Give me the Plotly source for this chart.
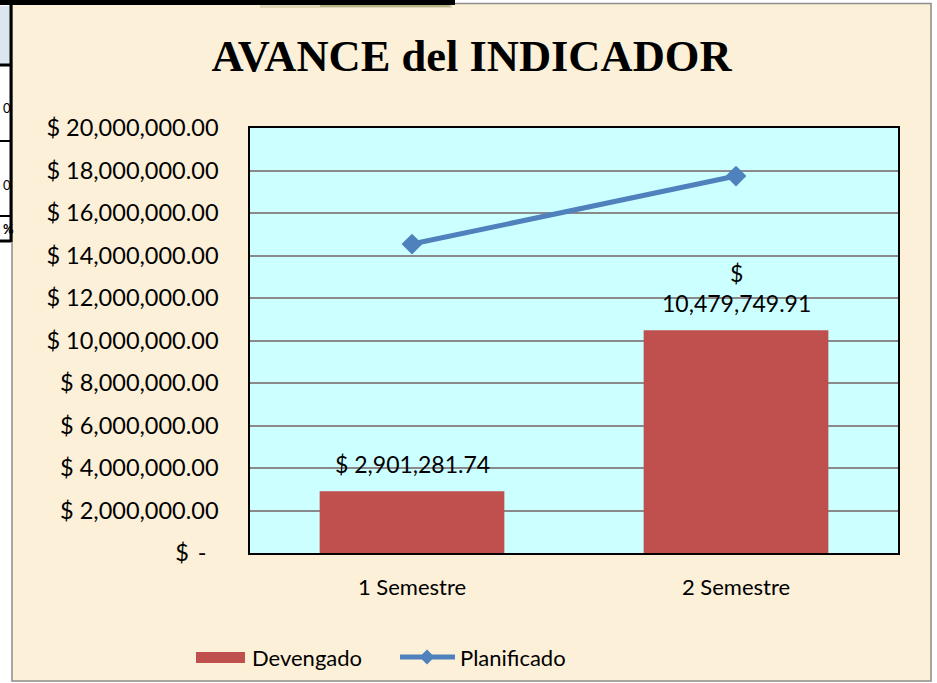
import plotly.graph_objects as go

# ---- data ----
categories = ["1 Semestre", "2 Semestre"]
devengado = [2901281.74, 10479749.91]
planificado = [14540000.0, 17740000.0]
y_tick_values = [0, 2e6, 4e6, 6e6, 8e6, 10e6, 12e6, 14e6, 16e6, 18e6, 20e6]

# ---- styling ----
PARCHMENT = "#FCF0D8"
PLOT_BG = "#CCFFFF"
BAR_RED = "#C0504D"
LINE_BLUE = "#4F81BD"
GRID = "#8A8A8A"
SANS = "Lato, 'Open Sans', sans-serif"
SERIF = "'Liberation Serif', 'DejaVu Serif', serif"

W, H = 937, 683
PL, PR, PT, PB = 250, 898, 128, 553  # plot area in pixels


def fx(px):
    return (px - PL) / (PR - PL)


def fy(py):
    return (PB - py) / (PB - PT)


def money(v):
    if v == 0:
        return "$\u00a0\u2009-\u00a0\u00a0"
    return f"$ {v:,.2f}"


def bar_label(v):
    s = money(v)
    # long accounting labels wrap after the currency sign
    if len(s) > 14:
        s = s.replace("$ ", "$<br>", 1)
    return s


y_tick_text = [money(v) for v in y_tick_values]

fig = go.Figure()

fig.add_trace(go.Bar(
    x=categories, y=devengado, name="Devengado",
    marker=dict(color=BAR_RED, line=dict(width=0)),
    width=0.57,
))
fig.add_trace(go.Scatter(
    x=categories, y=planificado, name="Planificado", mode="lines+markers",
    line=dict(color=LINE_BLUE, width=5),
    marker=dict(symbol="diamond", size=16, color=LINE_BLUE),
))

annotations = []
for c, v in zip(categories, devengado):
    annotations.append(dict(
        x=c, y=v, xref="x", yref="y", text=bar_label(v), showarrow=False,
        yanchor="bottom", yshift=11, font=dict(family=SANS, size=23, color="black"),
    ))

# values in the spreadsheet cells on the left edge
for txt, py, bold in [("0", 108, False), ("0", 185, False), ("%", 229, True)]:
    annotations.append(dict(
        x=fx(0.5), y=fy(py), xref="paper", yref="paper", xanchor="left",
        yanchor="middle", showarrow=False,
        text=f"<b>{txt}</b>" if bold else txt,
        font=dict(family=SANS, size=13, color="black"),
    ))

# legend labels
annotations.append(dict(x=fx(250), y=fy(657), xref="paper", yref="paper",
                        xanchor="left", yanchor="middle", showarrow=False,
                        text="Devengado", font=dict(family=SANS, size=22, color="black")))
annotations.append(dict(x=fx(458), y=fy(657), xref="paper", yref="paper",
                        xanchor="left", yanchor="middle", showarrow=False,
                        text="Planificado", font=dict(family=SANS, size=22, color="black")))

shapes = []


def rect(x0, y0, x1, y1, fill, line_color=None, line_width=0, layer="below"):
    shapes.append(dict(
        type="rect", xref="paper", yref="paper",
        x0=fx(x0), x1=fx(x1), y0=fy(y1), y1=fy(y0),
        fillcolor=fill, layer=layer,
        line=dict(color=line_color or "rgba(0,0,0,0)", width=line_width),
    ))


def hline(x0, x1, y, color, width):
    shapes.append(dict(type="line", xref="paper", yref="paper",
                       x0=fx(x0), x1=fx(x1), y0=fy(y), y1=fy(y),
                       line=dict(color=color, width=width), layer="above"))


def vline(x, y0, y1, color, width):
    shapes.append(dict(type="line", xref="paper", yref="paper",
                       x0=fx(x), x1=fx(x), y0=fy(y0), y1=fy(y1),
                       line=dict(color=color, width=width), layer="above"))


# white surroundings of the chart frame
rect(0, 0, 12, H, "white")
rect(0, 0, W, 3, "white")
rect(932, 0, W, H, "white")
rect(0, 682, W, H, "white")
# chart frame
rect(12, 3.5, 931, 681, "rgba(0,0,0,0)", "#8C8C8C", 1.5)
# dark bar along the top-left with its soft olive shadow
rect(260, 5, 452, 8, "rgba(130,135,70,0.25)", layer="above")
rect(320, 5, 450, 7, "rgba(110,120,50,0.35)", layer="above")
rect(0, 0, 455, 5, "black", layer="above")
# spreadsheet cells at the left edge
rect(0, 6, 10, 64, "#DCE6F1")
vline(11, 0, 242, "black", 3)
hline(0, 11, 65, "black", 3)
hline(0, 11, 141, "black", 2)
hline(0, 11, 216, "black", 2)
hline(0, 11, 241, "black", 3)

# legend symbols
rect(196, 652, 245, 663, BAR_RED, layer="above")
hline(400, 455, 657, LINE_BLUE, 5)
dx, dy = 7.5, 7.5
cx, cy = 427, 657
shapes.append(dict(
    type="path", xref="paper", yref="paper", layer="above",
    path=(f"M {fx(cx - dx)} {fy(cy)} L {fx(cx)} {fy(cy - dy)} "
          f"L {fx(cx + dx)} {fy(cy)} L {fx(cx)} {fy(cy + dy)} Z"),
    fillcolor=LINE_BLUE, line=dict(width=0),
))

fig.update_layout(
    width=W, height=H, autosize=False,
    margin=dict(l=PL, r=W - PR, t=PT, b=H - PB, pad=0),
    paper_bgcolor=PARCHMENT, plot_bgcolor=PLOT_BG,
    showlegend=False,
    title=dict(text="<b>AVANCE del INDICADOR</b>", x=471.5 / W, xref="container",
               y=1 - 55 / H, yref="container", xanchor="center", yanchor="middle",
               font=dict(family=SERIF, size=44.5, color="black")),
    font=dict(family=SANS, size=22, color="black"),
    xaxis=dict(
        type="category", range=[-0.5, 1.5],
        showline=True, linecolor="black", linewidth=1.5, mirror=True,
        showgrid=False, ticks="", ticklabelstandoff=14,
        tickfont=dict(family=SANS, size=22, color="black"),
    ),
    yaxis=dict(
        range=[0, 20e6], tickmode="array", tickvals=y_tick_values, ticktext=y_tick_text,
        showline=True, linecolor="black", linewidth=1.5, mirror=True,
        showgrid=True, gridcolor=GRID, gridwidth=1.5, zeroline=False,
        ticks="", ticklabelstandoff=25,
        tickfont=dict(family=SANS, size=23.5, color="black"),
    ),
    bargap=0.43,
    annotations=annotations,
    shapes=shapes,
)

fig.write_html("out.html")
